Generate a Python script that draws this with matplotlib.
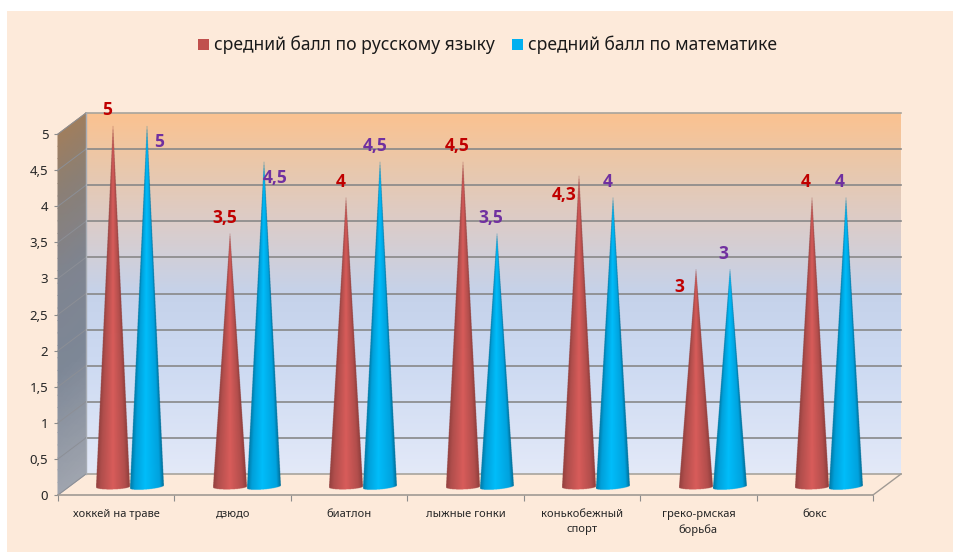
#!/usr/bin/env python3
"""Conical 3D-look column chart of average marks per sport."""

import numpy as np
import matplotlib
matplotlib.use("Agg")
import matplotlib.pyplot as plt
from matplotlib.colors import LinearSegmentedColormap
from matplotlib.patches import Patch, Rectangle

W, H = 954, 552

categories = ["хоккей на траве", "дзюдо", "биатлон", "лыжные гонки",
              "конькобежный\nспорт", "греко-рмская\nборьба", "бокс"]
russian = [5, 3.5, 4, 4.5, 4.3, 3, 4]
maths = [5, 4.5, 4.5, 3.5, 4, 3, 4]
russian_labels = ["5", "3,5", "4", "4,5", "4,3", "3", "4"]
maths_labels = ["5", "4,5", "4,5", "3,5", "4", "3", "4"]
y_ticks = [0, 0.5, 1, 1.5, 2, 2.5, 3, 3.5, 4, 4.5, 5]
y_tick_labels = ["0", "0,5", "1", "1,5", "2", "2,5", "3", "3,5", "4", "4,5", "5"]

# label offsets from the cone tip, in pixels
russian_offsets = [(-6, 14), (-5, 14), (-6, 14), (-6, 14), (-15, -20), (-16, -19), (-6, 14)]
maths_offsets = [(12, -18), (11, -18), (-5, 14), (-6, 14), (-6, 14), (-6, 14), (-6, 14)]

BG = "#FDEADA"
GRID = "#888888"
FONT = ["Noto Sans", "DejaVu Sans"]
LABEL_FONT = ["Open Sans", "DejaVu Sans"]
RED = "#C0504D"
BLUE = "#00B0F0"

plt.rcParams["font.family"] = FONT

fig = plt.figure(figsize=(W / 100, H / 100), dpi=100, facecolor="white")
fig.add_artist(Rectangle((7 / W, 0), 1 - 7 / W, 1 - 11 / H, transform=fig.transFigure,
                         facecolor=BG, edgecolor="none", zorder=-10))

ax = fig.add_axes([58 / W, (H - 495) / H, 815 / W, 361 / H])
ax.patch.set_visible(False)
ax.set_xlim(0, len(categories))
ax.set_ylim(0, 5)
ax.autoscale(False)

# one px in data units
px_x = len(categories) / 815
px_y = 5 / 361
depth_x, depth_y = 28 * px_x, 21 * px_y

# back wall
wall_cmap = LinearSegmentedColormap.from_list("wall", [
    (0.0, "#E3E9F8"), (0.3, "#CDDAF2"), (0.5, "#C5D2EA"), (0.7, "#DCCCC8"),
    (0.85, "#E9C8AC"), (1.0, "#FBC290")])
ax.imshow(np.linspace(1, 0, 256).reshape(-1, 1), cmap=wall_cmap, aspect="auto",
          extent=(depth_x, len(categories) + depth_x, depth_y, 5 + depth_y),
          vmin=0, vmax=1, zorder=1, clip_on=False)

# left wall
side_cmap = LinearSegmentedColormap.from_list("side", [
    (0.0, "#A0A5AF"), (0.35, "#7D8796"), (0.6, "#7F8490"), (0.85, "#8C7F74"), (1.0, "#A07E5E")])
v = np.linspace(0, 5, 30)
side_x = np.column_stack([np.zeros_like(v), np.full_like(v, depth_x)])
side_y = np.column_stack([v, v + depth_y])
side_c = np.column_stack([v / 5, v / 5])
ax.pcolormesh(side_x, side_y, side_c, cmap=side_cmap, vmin=0, vmax=1, shading="gouraud",
              zorder=1, clip_on=False)

# grid on the walls
for tick in y_ticks:
    top = tick == 5
    ax.plot([depth_x, len(categories) + depth_x], [tick + depth_y] * 2,
            color="#A8A49C" if top or tick == 0 else GRID, lw=1.2, zorder=2, clip_on=False)
    ax.plot([0, depth_x], [tick, tick + depth_y], color="#8C8F96", lw=0.7, zorder=2, clip_on=False)
ax.plot([depth_x, depth_x], [depth_y, 5 + depth_y], color="#A8ADB5", lw=1, zorder=2, clip_on=False)
ax.plot([len(categories), len(categories) + depth_x], [0, depth_y], color="#A09A94", lw=1,
        zorder=2, clip_on=False)


def draw_cone(cx, value, cmap, tilt):
    """Cone as a supersampled RGBA image, shaded across its width and faded outside its outline."""
    half_w = 17 * px_x
    foot = 8 * px_y
    tip = 10 * px_y + value
    low = foot - 6 * px_y
    n_x = 34 * 6
    n_y = int((tip - low) / px_y) * 4
    xs = np.linspace(cx - half_w, cx + half_w, n_x)
    ys = np.linspace(tip, low, n_y)
    xx, yy = np.meshgrid(xs, ys)
    w = (xx - cx) / half_w
    taper = np.clip(1 - (yy - foot) / (tip - foot), 1e-3, 1)
    u = np.clip(w / taper, -1, 1)
    edge = foot - px_y * (2.5 * np.sqrt(np.clip(1 - w ** 2, 0, 1)) - tilt * w)
    rgba = cmap((u + 1) / 2)
    rgba[..., 3] = ((np.abs(w) <= taper) & (yy >= edge)).astype(float)
    ax.imshow(rgba, aspect="auto", extent=(cx - half_w, cx + half_w, low, tip), zorder=3,
              clip_on=False, interpolation="antialiased")


red_cmap = LinearSegmentedColormap.from_list("red", [
    (0.0, "#93403E"), (0.14, "#B04E4C"), (0.5, "#D85C5A"), (0.86, "#B24E4C"), (1.0, "#8F3E3C")])
blue_cmap = LinearSegmentedColormap.from_list("blue", [
    (0.0, "#0078A4"), (0.14, "#00A0DA"), (0.45, "#00BDFA"), (0.88, "#00A2DE"), (1.0, "#006E98")])

red_pos = 55.5 * px_x
blue_pos = 89.5 * px_x
for i, (r, m) in enumerate(zip(russian, maths)):
    draw_cone(i + red_pos, r, red_cmap, 0.5)
    draw_cone(i + blue_pos, m, blue_cmap, 1.5)

# data labels
for i in range(len(categories)):
    ax.annotate(russian_labels[i], (i + red_pos, russian[i] + 10 * px_y),
                xytext=(russian_offsets[i][0] * 0.72, russian_offsets[i][1] * 0.72),
                textcoords="offset points", ha="center", va="center", color="#C00000",
                family=LABEL_FONT, fontsize=12.5, fontweight="bold", zorder=5, annotation_clip=False)
    ax.annotate(maths_labels[i], (i + blue_pos, maths[i] + 10 * px_y),
                xytext=(maths_offsets[i][0] * 0.72, maths_offsets[i][1] * 0.72),
                textcoords="offset points", ha="center", va="center", color="#7030A0",
                family=LABEL_FONT, fontsize=12.5, fontweight="bold", zorder=5, annotation_clip=False)

# axes
for side in ["top", "right", "left"]:
    ax.spines[side].set_visible(False)
ax.spines["bottom"].set_color("#A09A94")
ax.spines["bottom"].set_linewidth(1.2)
ax.spines["bottom"].set_zorder(2)
ax.set_yticks(y_ticks)
ax.set_yticklabels(y_tick_labels)
ax.tick_params(axis="y", length=3, width=0.8, color="#8C8C8C", pad=4, labelsize=9.5, labelcolor="#262626")
ax.set_xticks(np.arange(len(categories) + 1))
ax.set_xticklabels([])
ax.tick_params(axis="x", which="major", length=4, width=0.8, color="#8C8C8C")
ax.set_xticks(np.arange(len(categories)) + 0.5, minor=True)
ax.set_xticklabels(categories, minor=True)
ax.tick_params(axis="x", which="minor", length=0, pad=10, labelsize=8, labelcolor="#262626")
for label in ax.get_xticklabels(minor=True):
    label.set_linespacing(1.5)

handles = [Patch(facecolor=RED, label="средний балл по русскому языку"),
           Patch(facecolor=BLUE, label="средний балл по математике")]
fig.legend(handles=handles, loc="center", bbox_to_anchor=(487.5 / W, 1 - 45 / H), ncol=2, frameon=False,
           fontsize=12.6, handlelength=0.6, handleheight=0.6, handletextpad=0.3, columnspacing=1.0,
           labelcolor="#1A1A1A")

fig.savefig("out.png", dpi=100)
